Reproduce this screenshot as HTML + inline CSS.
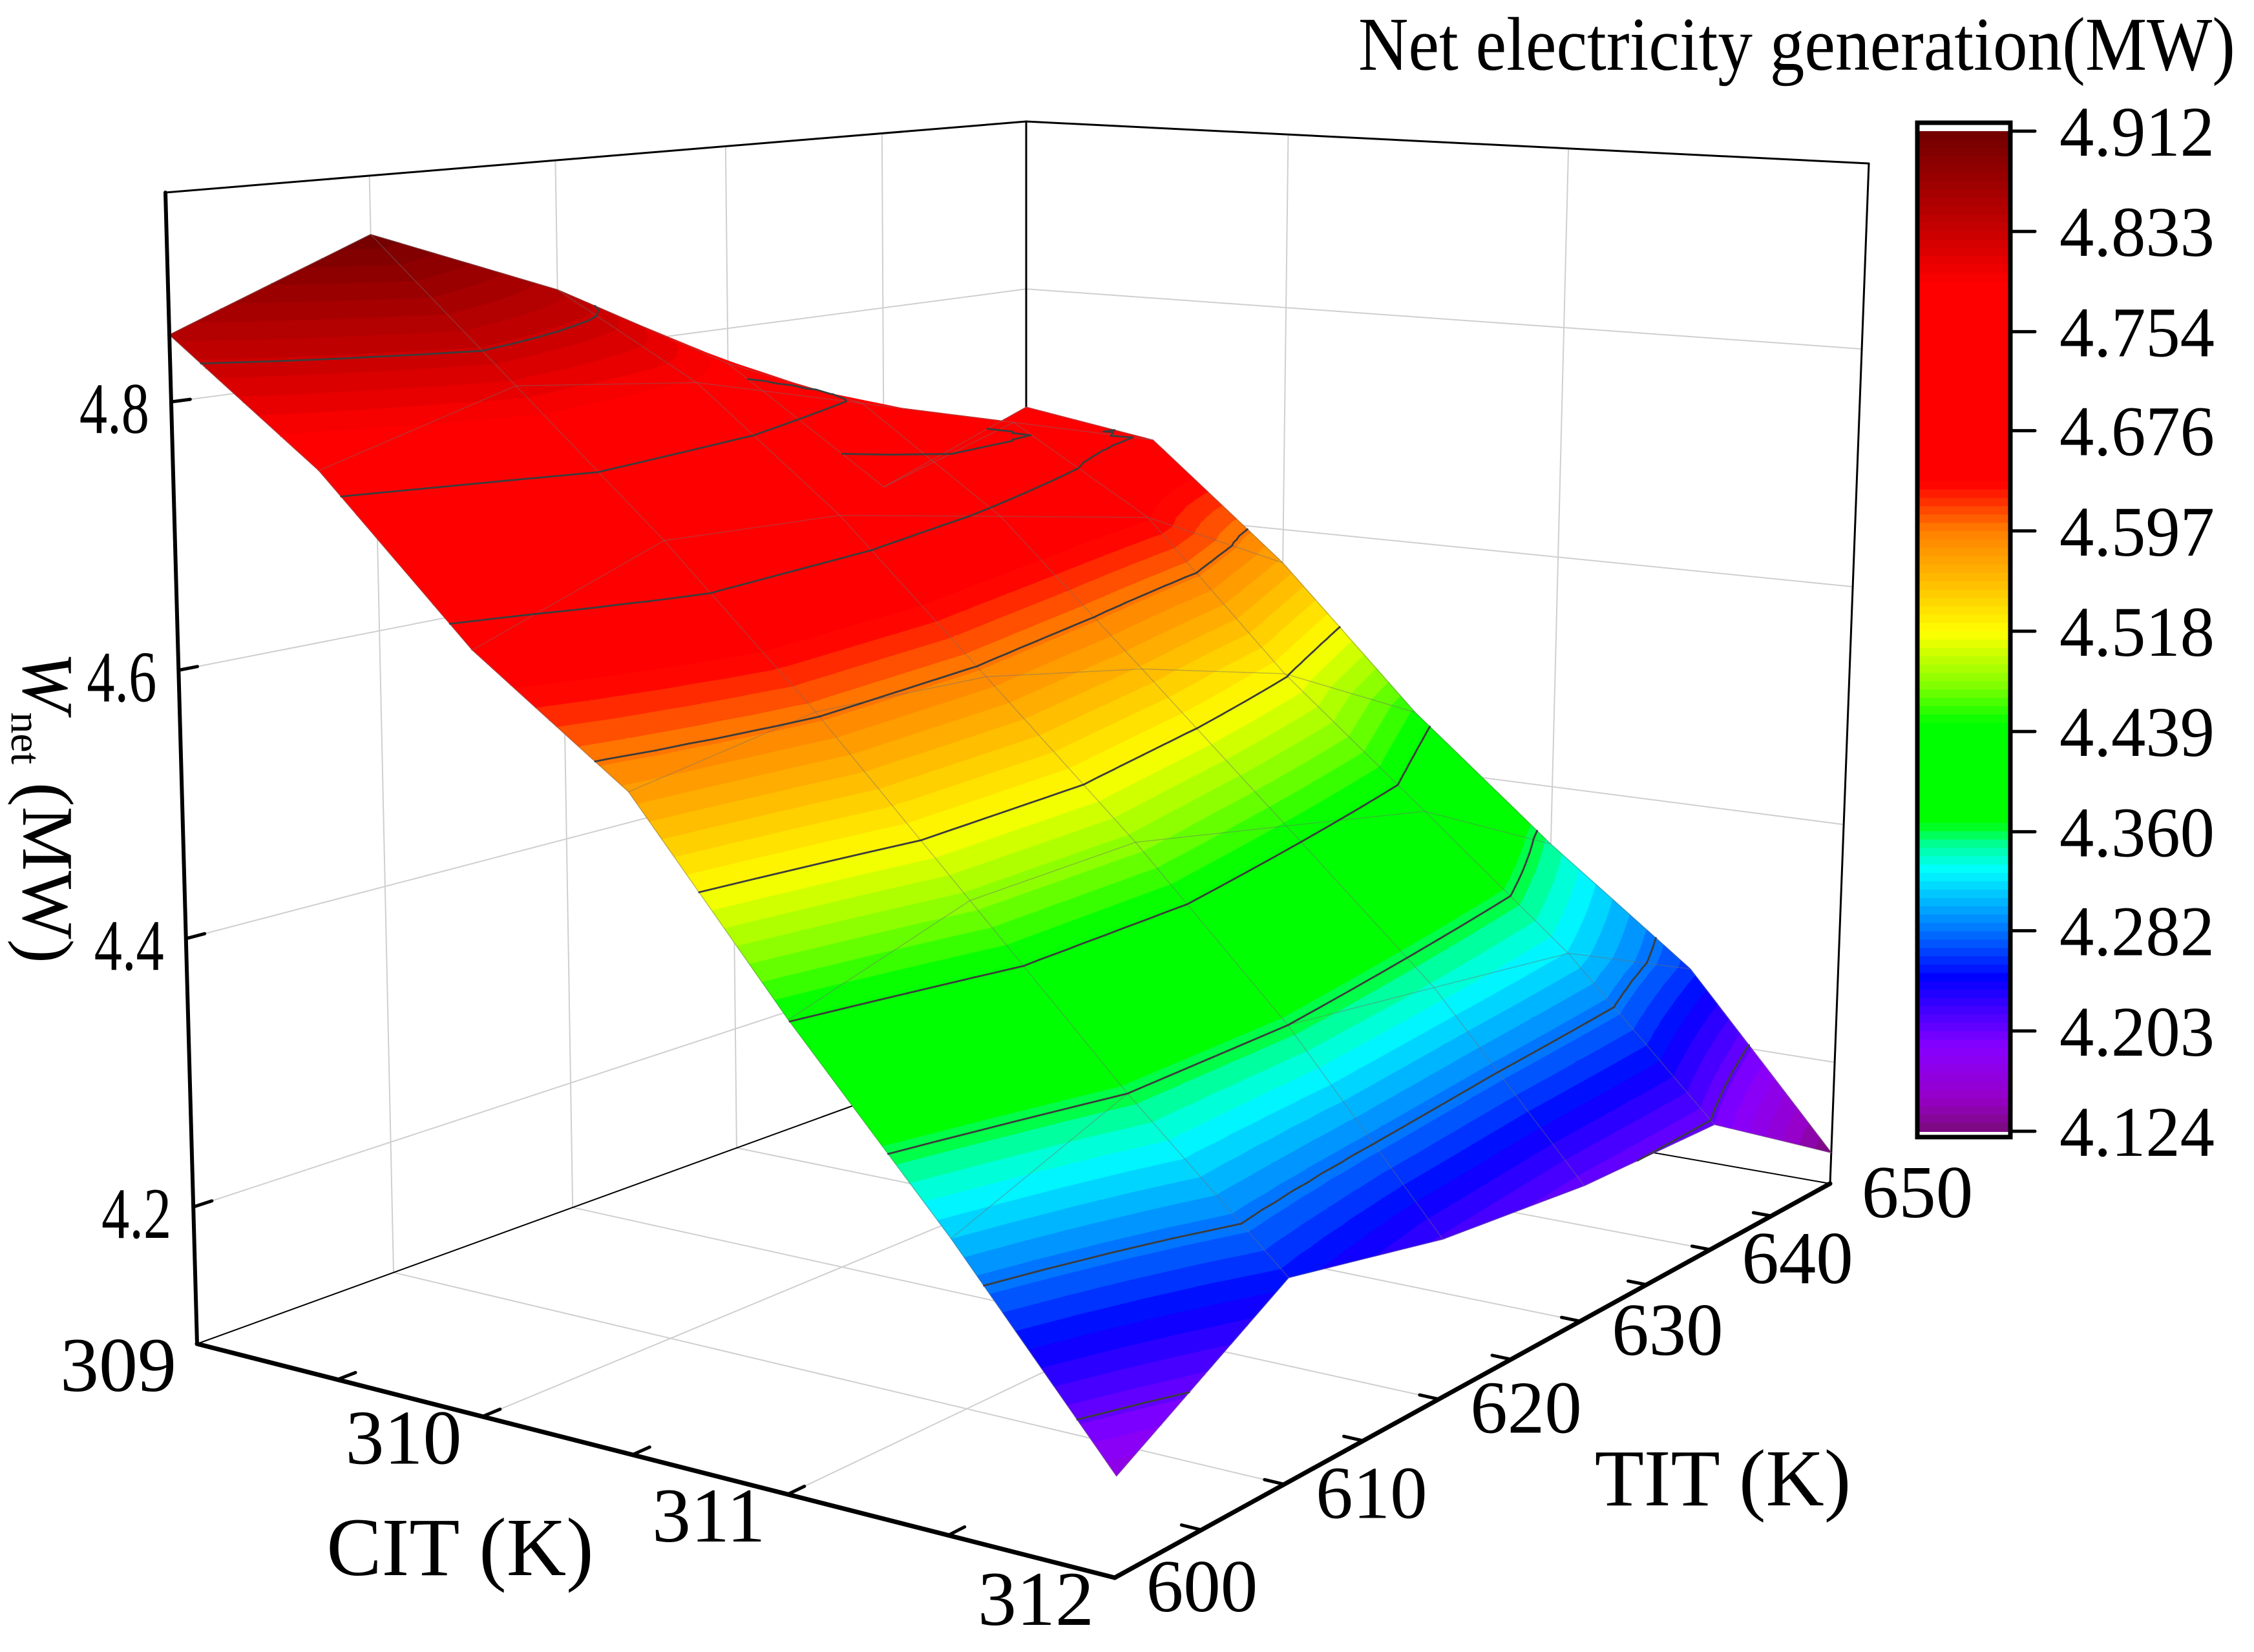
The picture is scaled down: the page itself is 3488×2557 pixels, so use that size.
<!DOCTYPE html>
<html><head><meta charset="utf-8"><title>Net electricity generation surface</title>
<style>
html,body{margin:0;padding:0;background:#fff;}
svg{display:block;font-family:"Liberation Serif",serif;}
</style></head>
<body>
<svg id="chart" width="3488" height="2557" viewBox="0 0 3488 2557" xmlns="http://www.w3.org/2000/svg">
  <rect x="0" y="0" width="3488" height="2557" fill="#fff"/>
  <g id="walls"></g>
  <g id="surface"></g>
  <g id="lines"></g>
  <g id="axes"></g>
  <g id="cbar"></g>
  <text x="2102" y="108" font-size="118" textLength="1357" lengthAdjust="spacingAndGlyphs">Net electricity generation(MW)</text>
  <text x="712" y="2438" font-size="128" text-anchor="middle">CIT (K)</text>
  <text x="2666" y="2330" font-size="125" text-anchor="middle">TIT (K)</text>
  <text transform="translate(36,1250) rotate(90)" font-size="112" text-anchor="middle"><tspan font-style="italic">W</tspan><tspan font-size="66" dy="18">net</tspan><tspan dy="-18"> (MW)</tspan></text>
</svg>
<script>
// ---- data ----
const cit = [309, 309.5, 310, 310.5, 311, 311.5, 312];
const tit = [600, 610, 620, 630, 640, 650];
const w600 = [4.85, 4.77, 4.66, 4.58, 4.44, 4.31, 4.17];
const w610 = [4.91, 4.81, 4.71, 4.60, 4.48, 4.36, 4.25];
const w620 = [4.85, 4.79, 4.70, 4.59, 4.48, 4.36, 4.22];
const w630 = [4.77, 4.75, 4.67, 4.56, 4.45, 4.34, 4.205];
const w640 = [4.64, 4.71, 4.64, 4.52, 4.42, 4.32, 4.20];
const w650 = [4.69, 4.67, 4.57, 4.45, 4.35, 4.26, 4.124];
const citTicks = [309, 310, 311, 312];
const titTicks = [600, 610, 620, 630, 640, 650];
const zTicks = [4.2, 4.4, 4.6, 4.8];
const cbarTicks = [4.912, 4.833, 4.754, 4.676, 4.597, 4.518, 4.439, 4.360, 4.282, 4.203, 4.124];
const rows = [w600, w610, w620, w630, w640, w650];

// ---- projection ----
const ZB = 4.098, ZT = 4.956, CMIN = 4.124, CMAX = 4.912;
const AU = 1.108, AV = 0.805;
const F = {a:[305,2080], b:[1725,2442], c:[1588,1614], d:[2832,1832]};
const T = {a:[256,298], b:[1757,566], c:[1588,188], d:[2892,253]};
function bil(Q, s, r){
  return [Q.a[0]*(1-s)*(1-r)+Q.b[0]*s*(1-r)+Q.c[0]*(1-s)*r+Q.d[0]*s*r,
          Q.a[1]*(1-s)*(1-r)+Q.b[1]*s*(1-r)+Q.c[1]*(1-s)*r+Q.d[1]*s*r];
}
function P(c, t, z){
  const u=(c-309)/3, v=(t-600)/50;
  const fu=u/(u+AU*(1-u)), fv=v/(v+AV*(1-v));
  const fl=bil(F,fu,fv), tp=bil(T,fu,fv);
  const w=(z-ZB)/(ZT-ZB);
  return [fl[0]+w*(tp[0]-fl[0]), fl[1]+w*(tp[1]-fl[1])];
}
// ---- colormap ----
const stops = [[4.124,[122,10,122]],[4.15,[150,0,200]],[4.19,[136,0,255]],[4.22,[64,0,255]],[4.245,[0,0,255]],
 [4.27,[0,80,255]],[4.30,[0,168,255]],[4.33,[0,255,255]],[4.35,[0,255,150]],[4.368,[0,255,0]],[4.445,[0,255,0]],
 [4.475,[128,255,0]],[4.517,[255,255,0]],[4.555,[255,192,0]],[4.597,[255,128,0]],[4.62,[255,48,0]],[4.635,[255,0,0]],
 [4.79,[255,0,0]],[4.84,[192,0,0]],[4.912,[112,0,0]]];
function cmap(z){
  if(z<=stops[0][0]) return stops[0][1];
  for(let i=1;i<stops.length;i++){
    if(z<=stops[i][0]){const a=stops[i-1],b=stops[i];const f=(z-a[0])/(b[0]-a[0]);
      return [0,1,2].map(k=>Math.round(a[1][k]+f*(b[1][k]-a[1][k])));}
  }
  return stops[stops.length-1][1];
}
const rgb = c=>`rgb(${c[0]},${c[1]},${c[2]})`;
const NS='http://www.w3.org/2000/svg';
function mk(tag, parent){const e=document.createElementNS(NS,tag);parent.appendChild(e);return e;}
const walls=document.getElementById('walls'), surf=document.getElementById('surface'),
      lines=document.getElementById('lines'), axes=document.getElementById('axes'), cbar=document.getElementById('cbar');
function seg(parent, p, q, stroke, width, name){
  const el=mk('line',parent);
  
  
  el.setAttribute('x1',p[0]);el.setAttribute('y1',p[1]);el.setAttribute('x2',q[0]);el.setAttribute('y2',q[1]);
  el.setAttribute('stroke',stroke);el.setAttribute('stroke-width',width);el.setAttribute('stroke-linecap','round');
  return el;
}
const GRID='#cfcfcf';
zTicks.forEach(z=>{
  seg(walls,P(309,600,z),P(309,650,z),GRID,2,'left-wall-gridline');
  seg(walls,P(309,650,z),P(312,650,z),GRID,2,'right-wall-gridline');
});
[610,620,630,640].forEach(t=>{
  seg(walls,P(309,t,ZB),P(309,t,ZT),GRID,2,'left-wall-gridline');
  seg(walls,P(309,t,ZB),P(312,t,ZB),GRID,2,'floor-gridline');
});
[310,311].forEach(c=>{
  seg(walls,P(c,650,ZB),P(c,650,ZT),GRID,2,'right-wall-gridline');
  seg(walls,P(c,600,ZB),P(c,650,ZB),GRID,2,'floor-gridline');
});
seg(walls,P(309,600,ZT),P(309,650,ZT),'#000',3,'box-edge');
seg(walls,P(309,650,ZT),P(312,650,ZT),'#000',3,'box-edge');
seg(walls,P(309,650,ZB),P(309,650,ZT),'#000',3,'box-edge');
seg(walls,P(312,650,ZB),P(312,650,ZT),'#000',3,'box-edge');
seg(walls,P(309,650,ZB),P(309,600,ZB),'#000',2,'box-edge');
seg(walls,P(309,650,ZB),P(312,650,ZB),'#000',2,'box-edge');

// ---- surface ----
const NB=72, bandEdges=[];
for(let k=0;k<=NB;k++) bandEdges.push(CMIN+(CMAX-CMIN)*k/NB);
bandEdges[0]=3.9; bandEdges[NB]=5.2;
function clip(poly, val, above){
  const out=[];
  for(let i=0;i<poly.length;i++){
    const A=poly[i], B=poly[(i+1)%poly.length];
    const ina= above? A[2]>=val : A[2]<=val, inb= above? B[2]>=val : B[2]<=val;
    if(ina) out.push(A);
    if(ina!==inb){const f=(val-A[2])/(B[2]-A[2]);out.push([A[0]+f*(B[0]-A[0]),A[1]+f*(B[1]-A[1]),val]);}
  }
  return out;
}
const levels = cbarTicks.slice(1,-1);
const N=4;
const cells=[];
for(let i=0;i<cit.length-1;i++) for(let j=0;j<tit.length-1;j++) cells.push([i,j]);
cells.sort((a,b)=>((a[0]-a[1]*1.2)-(b[0]-b[1]*1.2)));
const contourSegs=[];
cells.forEach(([i,j])=>{
  const z00=rows[j][i], z10=rows[j][i+1], z01=rows[j+1][i], z11=rows[j+1][i+1];
  const pt=(s,r)=>{const z=z00*(1-s)*(1-r)+z10*s*(1-r)+z01*(1-s)*r+z11*s*r;
    const p=P(cit[i]+s*(cit[i+1]-cit[i]), tit[j]+r*(tit[j+1]-tit[j]), z);return [p[0],p[1],z];};
  for(let a=0;a<N;a++) for(let b=0;b<N;b++){
    const p00=pt(a/N,b/N),p10=pt((a+1)/N,b/N),p01=pt(a/N,(b+1)/N),p11=pt((a+1)/N,(b+1)/N);
    [[p00,p10,p11],[p00,p11,p01]].forEach(tri=>{
      const zs=tri.map(p=>p[2]), mn=Math.min(...zs), mx=Math.max(...zs);
      for(let k=0;k<NB;k++){
        const lo=bandEdges[k], hi=bandEdges[k+1];
        if(hi<mn||lo>mx) continue;
        let poly=clip(tri,lo,true); if(poly.length<3) continue;
        poly=clip(poly,hi,false); if(poly.length<3) continue;
        const mid=CMIN+(CMAX-CMIN)*(k+0.5)/NB;
        const el=mk('polygon',surf);
        
        
        const col=rgb(cmap(mid));
        el.setAttribute('points',poly.map(p=>p[0].toFixed(1)+','+p[1].toFixed(1)).join(' '));
        el.setAttribute('fill',col);el.setAttribute('stroke',col);el.setAttribute('stroke-width','1.2');
      }
      levels.forEach(L0=>{
        const L=L0+1e-6;
        const cr=[];
        for(let e=0;e<3;e++){const A=tri[e],B=tri[(e+1)%3];
          if((A[2]-L)*(B[2]-L)<0){const f=(L-A[2])/(B[2]-A[2]);cr.push([A[0]+f*(B[0]-A[0]),A[1]+f*(B[1]-A[1])]);}}
        if(cr.length===2) contourSegs.push(cr);
      });
    });
  }
});
function meshLine(pts){
  const el=mk('polyline',lines);
  
  
  el.setAttribute('points',pts.map(p=>p[0].toFixed(1)+','+p[1].toFixed(1)).join(' '));
  el.setAttribute('fill','none');el.setAttribute('stroke','rgba(110,110,110,0.45)');el.setAttribute('stroke-width','1.4');
}
for(let j=0;j<tit.length;j++){const pts=[];for(let i=0;i<cit.length;i++)pts.push(P(cit[i],tit[j],rows[j][i]));meshLine(pts);}
for(let i=0;i<cit.length;i++){const pts=[];for(let j=0;j<tit.length;j++)pts.push(P(cit[i],tit[j],rows[j][i]));meshLine(pts);}
contourSegs.forEach(s=>{seg(lines,s[0],s[1],'#3c3c3c',2.8,'contour-line');});

// ---- axes ----
seg(axes,P(309,600,ZB),P(312,600,ZB),'#000',7,'cit-axis-line');
seg(axes,P(312,600,ZB),P(312,650,ZB),'#000',7,'tit-axis-line');
seg(axes,P(309,600,ZB),P(309,600,ZT),'#000',6,'z-axis-line');
function label(x,y,txt,size,name){
  const el=mk('text',axes);
  
  
  el.setAttribute('x',x);el.setAttribute('y',y);el.setAttribute('font-size',size);el.setAttribute('text-anchor','middle');
  el.textContent=txt;return el;
}
for(let c=309.5;c<312;c+=0.5){const p=P(c,600,ZB),q=P(c,600.9,ZB);seg(axes,p,q,'#000',5,'cit-tick');}
citTicks.forEach(c=>{const p=P(c,600,ZB);label(p[0]-122,p[1]+33+40,String(c),120,'cit-tick-label');});
for(let t=605;t<650;t+=5){const p=P(312,t,ZB),q=P(311.94,t,ZB);seg(axes,p,q,'#000',5,'tit-tick');}
titTicks.forEach(t=>{const p=P(312,t,ZB);label(p[0]+135,p[1]+12+40,String(t),115,'tit-tick-label');});
zTicks.forEach(z=>{const p=P(309,600,z),q=P(309,600.9,z);seg(axes,p,q,'#000',5,'z-tick');
  const el=label(p[0]-88,p[1]+10+38,z.toFixed(1),112,'z-tick-label');
  el.setAttribute('textLength','108');el.setAttribute('lengthAdjust','spacingAndGlyphs');});

// ---- colorbar ----
const CB={x:2967,y0:203,y1:1751,w:144};
const NC=120;
for(let k=0;k<NC;k++){
  const v=CMAX-(CMAX-CMIN)*(k+0.5)/NC;
  const el=mk('rect',cbar);
  
  
  const y=CB.y0+(CB.y1-CB.y0)*k/NC;
  el.setAttribute('x',CB.x);el.setAttribute('y',y.toFixed(1));el.setAttribute('width',CB.w);
  el.setAttribute('height',((CB.y1-CB.y0)/NC+1).toFixed(1));el.setAttribute('fill',rgb(cmap(v)));
}
{const el=mk('rect',cbar);
 
 
 el.setAttribute('x',CB.x);el.setAttribute('y',190);el.setAttribute('width',CB.w);el.setAttribute('height',1570);
 el.setAttribute('fill','none');el.setAttribute('stroke','#000');el.setAttribute('stroke-width','7');}
cbarTicks.forEach(v=>{
  const y=CB.y0+(CMAX-v)/(CMAX-CMIN)*(CB.y1-CB.y0);
  seg(cbar,[CB.x+CB.w,y],[CB.x+CB.w+38,y],'#000',5,'colorbar-tick');
  const el=mk('text',cbar);
  
  
  el.setAttribute('x',3187);el.setAttribute('y',(y+38).toFixed(1));el.setAttribute('font-size','110');
  el.setAttribute('textLength','240');el.setAttribute('lengthAdjust','spacingAndGlyphs');
  el.textContent=v.toFixed(3);
});
</script>
</body></html>
